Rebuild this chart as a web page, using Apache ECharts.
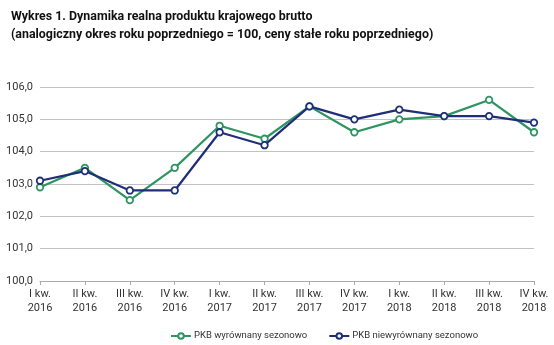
<!DOCTYPE html>
<html><head><meta charset="utf-8">
<script src="https://cdn.jsdelivr.net/npm/echarts@6/dist/echarts.min.js"></script>
<style>html,body{margin:0;padding:0;background:#fff}#c{width:554px;height:345px}</style>
</head><body><div id="c"></div>
<script>
const categories = ["I kw.\n2016","II kw.\n2016","III kw.\n2016","IV kw.\n2016","I kw.\n2017","II kw.\n2017","III kw.\n2017","IV kw.\n2017","I kw.\n2018","II kw.\n2018","III kw.\n2018","IV kw.\n2018"];
const seasAdj = [102.9,103.5,102.5,103.5,104.8,104.4,105.4,104.6,105.0,105.1,105.6,104.6];
const nonAdj = [103.1,103.4,102.8,102.8,104.6,104.2,105.4,105.0,105.3,105.1,105.1,104.9];
const seriesNames = ["PKB wyrównany sezonowo","PKB niewyrównany sezonowo"];
const titleLines = ["Wykres 1. Dynamika realna produktu krajowego brutto","(analogiczny okres roku poprzedniego = 100, ceny stałe roku poprzedniego)"];

const chart = echarts.init(document.getElementById('c'), null, {renderer:'canvas'});
const green = '#2e9462', blue = '#1e2f78';
const lab = "Roboto, sans-serif";
function mk(name, data, color){
  return {name, type:'line', data, symbol:'circle', symbolSize:6.5,
    lineStyle:{color, width:2.2}, itemStyle:{color:'#fff', borderColor:color, borderWidth:1.8},
    emphasis:{disabled:true}, z: color===blue?3:2};
}
chart.setOption({
  animation:false,
  title:{text:titleLines.join('\n'), left:6, top:3,
    textStyle:{fontFamily:lab, fontWeight:'bold', fontSize:12.4, lineHeight:18, color:'#111'}},
  grid:{left:40, right:20, top:87, bottom:64},
  legend:{top:326, left:165, itemGap:21, itemWidth:20, itemHeight:7,
    textStyle:{fontFamily:'Roboto', fontSize:9.5, color:'#333', padding:[0,0,0,-2]},
    data:seriesNames},
  xAxis:{type:'category', data:categories, boundaryGap:false,
    axisLine:{lineStyle:{color:'#aaa'}}, axisTick:{alignWithLabel:true, length:4, lineStyle:{color:'#aaa'}},
    axisLabel:{fontFamily:lab, fontSize:11, color:'#333', lineHeight:14, interval:0, margin:6}},
  yAxis:{type:'value', min:100, max:106, interval:1,
    axisLine:{show:false}, axisTick:{show:false},
    splitLine:{lineStyle:{color:'#c2c2c2', width:1.2}},
    axisLabel:{fontFamily:lab, fontSize:11, color:'#333', margin:7, formatter:v=>v.toFixed(1).replace('.',',')}},
  series:[mk(seriesNames[0], seasAdj, green), mk(seriesNames[1], nonAdj, blue)]
});
</script></body></html>
